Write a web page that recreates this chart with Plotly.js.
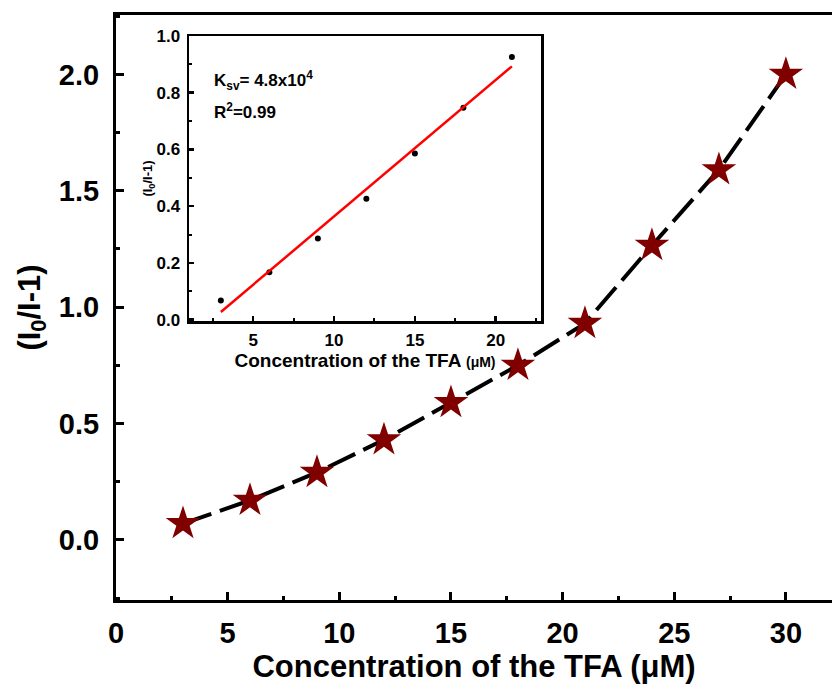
<!DOCTYPE html>
<html>
<head>
<meta charset="utf-8">
<script src="https://cdn.plot.ly/plotly-3.0.1.min.js"></script>
<style>html,body{margin:0;padding:0;background:#fff;}#chart{width:832px;height:688px;}</style>
</head>
<body>
<div id="chart"></div>
<script>
// Main chart data
const concentration = [3, 6, 9, 12, 15, 18, 21, 24, 27, 30];
const quenchRatio = [0.07, 0.17, 0.29, 0.43, 0.59, 0.75, 0.93, 1.265, 1.59, 2.0];
// Inset data
const insetConc = [3, 6, 9, 12, 15, 18, 21];
const insetRatio = [0.067, 0.167, 0.286, 0.426, 0.586, 0.747, 0.926];
// Linear fit endpoints
const fitX = [3, 21];
const fitY = [0.027, 0.893];
// Tick labels
const mainXTicks = [0, 5, 10, 15, 20, 25, 30];
const mainYTicks = [0.0, 0.5, 1.0, 1.5, 2.0];
const insetXTicks = [5, 10, 15, 20];
const insetYTicks = [0.0, 0.2, 0.4, 0.6, 0.8, 1.0];

const FONT = 'Liberation Sans, Arial, sans-serif';
const W = 832, H = 688;
const px = v => v / W;
const py = v => (H - v) / H;

const traces = [
  {
    x: concentration, y: quenchRatio, xaxis: 'x', yaxis: 'y',
    type: 'scatter', mode: 'lines+markers',
    line: {color: '#000', width: 4, dash: '30px,9px'},
    marker: {symbol: 'star', size: 26, color: '#800000', line: {width: 0}},
    showlegend: false
  },
  {
    x: insetConc, y: insetRatio, xaxis: 'x2', yaxis: 'y2',
    type: 'scatter', mode: 'markers',
    marker: {symbol: 'circle', size: 6, color: '#000'},
    showlegend: false
  },
  {
    x: fitX, y: fitY, xaxis: 'x2', yaxis: 'y2',
    type: 'scatter', mode: 'lines',
    line: {color: '#ff0000', width: 2.5},
    showlegend: false
  }
];

const mainTickFont = {family: FONT, size: 29, color: '#000', weight: 'bold'};
const insetTickFont = {family: FONT, size: 17, color: '#000', weight: 'bold'};

const layout = {
  width: W, height: H,
  margin: {l: 0, r: 0, t: 0, b: 0},
  paper_bgcolor: '#fff', plot_bgcolor: 'rgba(0,0,0,0)',
  showlegend: false,
  xaxis: {
    domain: [px(116), 1],
    range: [0, (832 - 116) / 22.33],
    tickmode: 'array', tickvals: mainXTicks, ticktext: mainXTicks.map(String),
    ticks: 'inside', ticklen: 8, tickwidth: 3, tickcolor: '#000',
    minor: {ticks: 'inside', dtick: 2.5, tick0: 0, ticklen: 4, tickwidth: 3, tickcolor: '#000'},
    showline: true, linewidth: 3, linecolor: '#000', mirror: true,
    showgrid: false, zeroline: false,
    tickfont: mainTickFont, ticklabelstandoff: 5,
    title: {text: 'Concentration of the TFA (μM)', font: {family: FONT, size: 31, color: '#000', weight: 'bold'}, standoff: 8},
    anchor: 'y'
  },
  yaxis: {
    domain: [py(600), py(15)],
    range: [-0.258, 2.255],
    tickmode: 'array', tickvals: mainYTicks, ticktext: mainYTicks.map(v => v.toFixed(1)),
    ticks: 'inside', ticklen: 8, tickwidth: 3, tickcolor: '#000',
    minor: {ticks: 'inside', dtick: 0.25, tick0: 0, ticklen: 4, tickwidth: 3, tickcolor: '#000'},
    showline: true, linewidth: 3, linecolor: '#000', mirror: false,
    showgrid: false, zeroline: false,
    tickfont: mainTickFont, ticklabelstandoff: 8,
    title: {text: '(I<sub>0</sub>/I-1)', font: {family: FONT, size: 31, color: '#000', weight: 'bold'}, standoff: 10},
    anchor: 'x'
  },
  xaxis2: {
    domain: [px(189), px(541)],
    range: [1.03, 22.8],
    tickmode: 'array', tickvals: insetXTicks, ticktext: insetXTicks.map(String),
    ticks: 'inside', ticklen: 5, tickwidth: 2.5, tickcolor: '#000',
    minor: {ticks: 'inside', dtick: 2.5, tick0: 0, ticklen: 3, tickwidth: 2, tickcolor: '#000'},
    showline: true, linewidth: 2.5, linecolor: '#000', mirror: true,
    showgrid: false, zeroline: false,
    tickfont: insetTickFont, ticklabelstandoff: 2,
    title: {text: 'Concentration of the TFA <span style="font-size:14px">(μM)</span>', font: {family: FONT, size: 19, color: '#000', weight: 'bold'}, standoff: 3},
    anchor: 'y2'
  },
  yaxis2: {
    domain: [py(321), py(36)],
    range: [-0.005, 1.0],
    tickmode: 'array', tickvals: insetYTicks, ticktext: insetYTicks.map(v => v.toFixed(1)),
    ticks: 'inside', ticklen: 5, tickwidth: 2.5, tickcolor: '#000',
    minor: {ticks: 'inside', dtick: 0.1, tick0: 0, ticklen: 3, tickwidth: 2, tickcolor: '#000'},
    showline: true, linewidth: 2.5, linecolor: '#000', mirror: true,
    showgrid: false, zeroline: false,
    tickfont: insetTickFont, ticklabelstandoff: 3,
    title: {text: '(I<sub>0</sub>/I-1)', font: {family: FONT, size: 13, color: '#000', weight: 'bold'}, standoff: 1},
    anchor: 'x2'
  },
  annotations: [
    {xref: 'paper', yref: 'paper', x: px(212), y: py(81), xanchor: 'left', yanchor: 'middle',
     text: 'K<sub>sv</sub>= 4.8x10<sup>4</sup>', showarrow: false,
     font: {family: FONT, size: 17, color: '#000', weight: 'bold'}},
    {xref: 'paper', yref: 'paper', x: px(212), y: py(111), xanchor: 'left', yanchor: 'middle',
     text: 'R<sup>2</sup>=0.99', showarrow: false,
     font: {family: FONT, size: 17, color: '#000', weight: 'bold'}}
  ]
};

Plotly.newPlot('chart', traces, layout, {displayModeBar: false, staticPlot: true});
</script>
</body>
</html>
